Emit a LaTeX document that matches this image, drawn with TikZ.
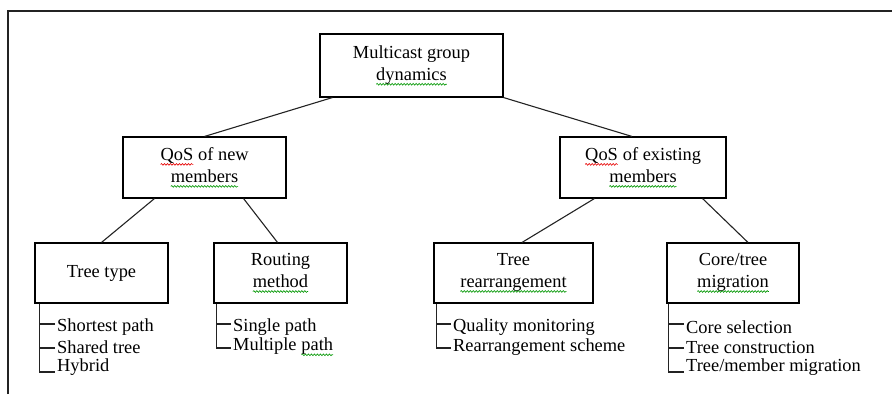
\documentclass[tikz,border=0pt]{standalone}
\usepackage{fontspec}
\setmainfont{Liberation Serif}
\newfontfamily\tnr{Liberation Serif}
\usetikzlibrary{decorations.pathmorphing}
\definecolor{wavegreen}{RGB}{0,150,0}
\definecolor{wavered}{RGB}{230,0,0}
\definecolor{linegray}{RGB}{35,35,35}
\newcommand\sqw[2]{\tikz[baseline=(sqword.base),x=1pt,y=1pt]{\node[inner sep=0pt,outer sep=0pt,minimum width=0pt,minimum height=0pt,draw=none,anchor=center] (sqword) {#2};\draw[draw=#1,line width=0.6pt,decorate,decoration={snake,amplitude=0.9pt,segment length=3pt}] ([yshift=-4pt]sqword.base west) -- ([yshift=-4pt]sqword.base east);}}
\begin{document}
\begin{tikzpicture}[x=1pt,y=-1pt,
  every node/.style={font=\tnr\fontsize{18.4}{22}\selectfont},
  box/.style={draw=black, line width=1.1pt, align=center, inner sep=0pt},
  link/.style={draw=linegray, line width=1.1pt},
  listtext/.style={anchor=west, inner sep=2pt, font=\tnr\fontsize{18.4}{20}\selectfont},
  frame/.style={draw=linegray, line width=1.5pt}]
\useasboundingbox (0,0) rectangle (892,394);
\draw[frame] (8,394) -- (8,11) -- (892,11);

\node[box, minimum width=183, minimum height=63] (top) at (411.5,65.5) {Multicast group\\\sqw{wavegreen}{dynamics}};
\node[box, minimum width=163, minimum height=61] (qn) at (204.5,167.5) {\sqw{wavered}{QoS} of new\\\sqw{wavegreen}{members}};
\node[box, minimum width=166, minimum height=61] (qe) at (643,167.5) {\sqw{wavered}{QoS} of existing\\\sqw{wavegreen}{members}};
\node[box, minimum width=133, minimum height=60] (tt) at (101.5,273) {\raisebox{-9pt}{Tree type}};
\node[box, minimum width=133, minimum height=60] (rm) at (280.5,273) {Routing\\\sqw{wavegreen}{method}};
\node[box, minimum width=159, minimum height=60] (tr) at (513.5,273) {Tree\\\sqw{wavegreen}{rearrangement}};
\node[box, minimum width=132, minimum height=60] (ct) at (733,273) {Core/tree\\\sqw{wavegreen}{migration}};

\draw[link] ([xshift=13]top.south west) -- (qn.north);
\draw[link] (top.south east) -- ([xshift=-11]qe.north);
\draw[link] ([xshift=32]qn.south west) -- (tt.north);
\draw[link] ([xshift=-43]qn.south east) -- ([xshift=-3]rm.north);
\draw[link] ([xshift=35]qe.south west) -- ([xshift=8.5]tr.north);
\draw[link] ([xshift=-24]qe.south east) -- ([xshift=15]ct.north);

% Tree type list
\node[listtext] (t1) at (55,327) {Shortest path};
\node[listtext] (t2) at (55,347) {Shared tree};
\node[listtext] (t3) at (55,367) {Hybrid};
\coordinate (tb) at ([xshift=5]tt.south west);
\draw[link] (tb) |- ([yshift=-5]t3.west);
\draw[link] ([yshift=3]t1.west) -- ([yshift=3]t1.west -| tb);
\draw[link] ([yshift=-1]t2.west) -- ([yshift=-1]t2.west -| tb);

% Routing list
\node[listtext] (r1) at (231,327) {Single path};
\node[listtext] (r2) at (231,347) {Multiple \sqw{wavegreen}{path}};
\coordinate (rb) at ([xshift=3]rm.south west);
\draw[link] (rb) |- ([yshift=-1]r2.west);
\draw[link] ([yshift=3]r1.west) -- ([yshift=3]r1.west -| rb);

% Rearrangement list
\node[listtext] (q1) at (451,327) {Quality monitoring};
\node[listtext] (q2) at (451,347) {Rearrangement scheme};
\coordinate (qb) at ([xshift=3]tr.south west);
\draw[link] (qb) |- ([yshift=-1]q2.west);
\draw[link] ([yshift=3]q1.west) -- ([yshift=3]q1.west -| qb);

% Core list
\node[listtext] (c1) at (684,327) {Core selection};
\node[listtext] (c2) at (684,347) {Tree construction};
\node[listtext] (c3) at (684,367) {Tree/member migration};
\coordinate (cb) at ([xshift=2]ct.south west);
\draw[link] (cb) |- ([yshift=-5]c3.west);
\draw[link] ([yshift=3]c1.west) -- ([yshift=3]c1.west -| cb);
\draw[link] ([yshift=-1]c2.west) -- ([yshift=-1]c2.west -| cb);
\end{tikzpicture}
\end{document}
